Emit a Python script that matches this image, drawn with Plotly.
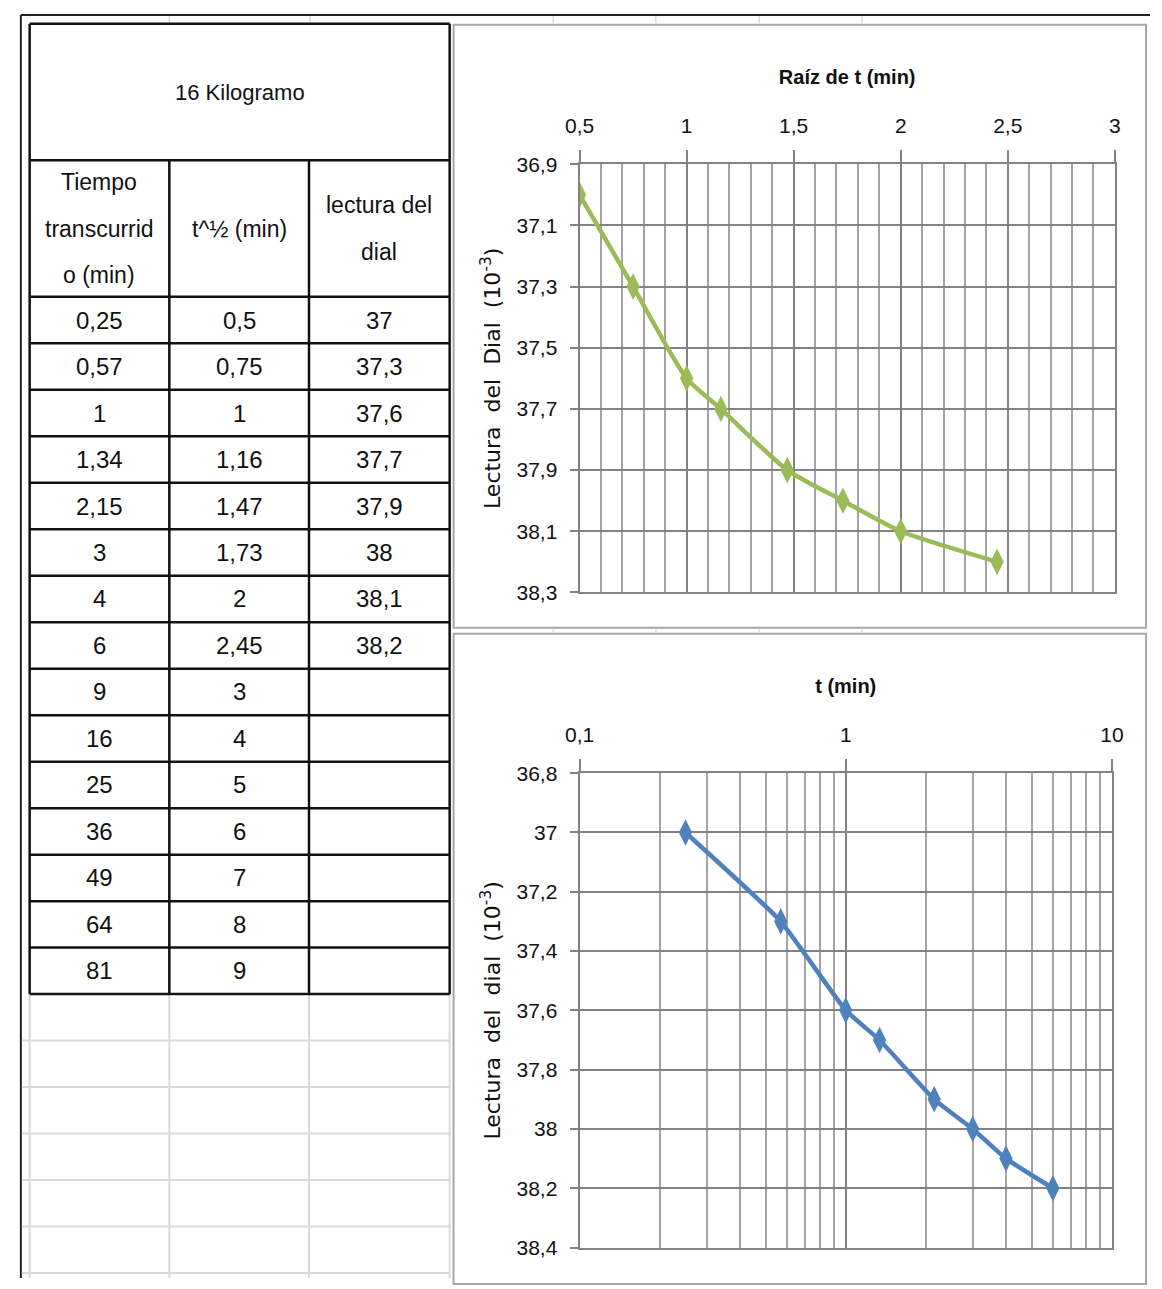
import plotly.graph_objects as go

# ---------------- data ----------------
table_title = "16 Kilogramo"
col_headers = [["Tiempo", "transcurrid", "o (min)"], ["t^½ (min)"], ["lectura del", "dial"]]
tiempo_min = [0.25, 0.57, 1, 1.34, 2.15, 3, 4, 6, 9, 16, 25, 36, 49, 64, 81]
raiz_t = [0.5, 0.75, 1, 1.16, 1.47, 1.73, 2, 2.45, 3, 4, 5, 6, 7, 8, 9]
lectura_dial = [37, 37.3, 37.6, 37.7, 37.9, 38, 38.1, 38.2]

chart1_title = "Raíz de t (min)"
chart2_title = "t (min)"
nb = "\u00a0"
y_title1 = f"Lectura{nb}{nb}del{nb}{nb}Dial{nb}{nb}(10<sup>-3</sup>)"
y_title2 = f"Lectura{nb}{nb}del{nb}{nb}dial{nb}{nb}(10<sup>-3</sup>)"

# ---------------- geometry helpers ----------------
W, H = 1162, 1289


def fx(x):
    return x / W


def fy(y):
    return 1 - y / H


def fmt(v):
    return f"{v:g}".replace(".", ",")


shapes = []
annotations = []


def hline(y, x0, x1, color, width):
    shapes.append(dict(type="line", xref="paper", yref="paper", x0=fx(x0), x1=fx(x1),
                       y0=fy(y), y1=fy(y), line=dict(color=color, width=width), layer="above"))


def vline(x, y0, y1, color, width):
    shapes.append(dict(type="line", xref="paper", yref="paper", x0=fx(x), x1=fx(x),
                       y0=fy(y0), y1=fy(y1), line=dict(color=color, width=width), layer="above"))


TABLE_FONT = "Liberation Sans, Arial, sans-serif"
col_edges = [15, 158, 301, 445]
title_top, header_top, rows_top = 12, 151, 290
row_h = 47.33
n_rows = len(tiempo_min)
rows_bottom = rows_top + n_rows * row_h
BLACK = "#111111"
SHEET_GRAY = "#dadada"

# spreadsheet background grid (top strip, below table, gap between charts)
hline(3, 6, 1162, "#222222", 2)
vline(6, 3, 1289, "#222222", 2)
for x in [158, 302, 551, 656, 762, 867]:
    vline(x, 4, 12, SHEET_GRAY, 1.5)
for x in [551, 656, 762, 867]:
    vline(x, 628, 632, SHEET_GRAY, 1.5)
k = 1
while rows_bottom + k * row_h < H:
    hline(rows_bottom + k * row_h, 7, 445, SHEET_GRAY, 2)
    k += 1
for x in col_edges:
    vline(x, rows_bottom, H, SHEET_GRAY, 2)

# table borders
hline(title_top, col_edges[0], col_edges[-1], BLACK, 2.5)
hline(header_top, col_edges[0], col_edges[-1], BLACK, 2.5)
for i in range(n_rows + 1):
    hline(rows_top + i * row_h, col_edges[0], col_edges[-1], BLACK, 2.5)
vline(col_edges[0], title_top, rows_bottom, BLACK, 2.5)
vline(col_edges[-1], title_top, rows_bottom, BLACK, 2.5)
for x in col_edges[1:-1]:
    vline(x, header_top, rows_bottom, BLACK, 2.5)

# table texts
annotations.append(dict(text=table_title, x=fx((col_edges[0] + col_edges[-1]) / 2),
                        y=fy((title_top + header_top) / 2), xref="paper", yref="paper",
                        showarrow=False, xanchor="center", yanchor="middle",
                        font=dict(family=TABLE_FONT, size=22, color=BLACK)))
header_mid = (header_top + rows_top) / 2
for c, lines in enumerate(col_headers):
    cx = (col_edges[c] + col_edges[c + 1]) / 2
    n = len(lines)
    for j, line in enumerate(lines):
        cy = header_mid + (j - (n - 1) / 2) * 47
        annotations.append(dict(text=line, x=fx(cx), y=fy(cy), xref="paper", yref="paper",
                                showarrow=False, xanchor="center", yanchor="middle",
                                font=dict(family=TABLE_FONT, size=23, color=BLACK)))
columns = [tiempo_min, raiz_t, lectura_dial]
for c, vals in enumerate(columns):
    cx = (col_edges[c] + col_edges[c + 1]) / 2
    for i, v in enumerate(vals):
        cy = rows_top + (i + 0.5) * row_h
        annotations.append(dict(text=fmt(v), x=fx(cx), y=fy(cy), xref="paper", yref="paper",
                                showarrow=False, xanchor="center", yanchor="middle",
                                font=dict(family=TABLE_FONT, size=24, color=BLACK)))

# chart boxes
CHART_BORDER = "#a6a6a6"
for (x0, y0, x1, y1) in [(449, 13, 1158, 627), (449, 633, 1158, 1295)]:
    shapes.append(dict(type="rect", xref="paper", yref="paper", x0=fx(x0), x1=fx(x1),
                       y0=fy(y1), y1=fy(y0), line=dict(color=CHART_BORDER, width=2),
                       fillcolor="rgba(0,0,0,0)", layer="below"))

# ---------------- traces ----------------
n = len(lectura_dial)
GREEN = "#9BBB59"
BLUE = "#4F81BD"
fig = go.Figure()
fig.add_trace(go.Scatter(x=raiz_t[:n], y=lectura_dial, mode="lines+markers",
                         line=dict(color=GREEN, width=4.5, shape="spline", smoothing=0.6),
                         marker=dict(symbol="diamond-tall", size=19, color=GREEN),
                         xaxis="x", yaxis="y", showlegend=False))
fig.add_trace(go.Scatter(x=tiempo_min[:n], y=lectura_dial, mode="lines+markers",
                         line=dict(color=BLUE, width=4.5, shape="spline", smoothing=0.4),
                         marker=dict(symbol="diamond-tall", size=19, color=BLUE),
                         xaxis="x2", yaxis="y2", showlegend=False))

GRID = "#828282"
MINOR = "#a4a4a4"
TICKFONT = dict(family="Liberation Sans, Arial, sans-serif", size=21, color="#111111")
TITLEFONT = dict(family="Liberation Sans, Arial, sans-serif", size=20, color="#111111")
YTITLEFONT = dict(family="DejaVu Sans, Verdana, sans-serif", size=22, color="#111111")

common = dict(showgrid=True, gridcolor=GRID, gridwidth=2, ticks="outside", tickcolor=GRID,
              tickwidth=2, showline=True, mirror=True, linecolor=GRID, linewidth=2,
              zeroline=False, tickfont=TICKFONT, fixedrange=True)

fig.update_layout(
    width=W, height=H, autosize=False,
    margin=dict(l=0, r=0, t=0, b=0, pad=0),
    paper_bgcolor="white", plot_bgcolor="white",
    separators=", ",
    shapes=shapes, annotations=annotations,
    xaxis=dict(domain=[fx(578), fx(1126)], anchor="y", side="top", range=[0.5, 3],
               tick0=0.5, dtick=0.5, ticklen=12, ticklabelstandoff=9,
               minor=dict(tick0=0.5, dtick=0.1, showgrid=True, gridcolor=MINOR, gridwidth=1.5, ticks=""),
               title=dict(text=f"<b>{chart1_title}</b>", font=TITLEFONT, standoff=24), **common),
    yaxis=dict(domain=[fy(591), fy(155)], anchor="x", range=[38.3, 36.9],
               tick0=36.9, dtick=0.2, ticklen=8, ticklabelstandoff=8,
               title=dict(text=y_title1, font=YTITLEFONT, standoff=10), **common),
    xaxis2=dict(domain=[fx(578), fx(1123)], anchor="y2", side="top", type="log", range=[-1, 1],
                dtick=1, ticklen=12, ticklabelstandoff=9,
                minor=dict(dtick="D1", showgrid=True, gridcolor=MINOR, gridwidth=1.5, ticks=""),
                title=dict(text=f"<b>{chart2_title}</b>", font=TITLEFONT, standoff=24), **common),
    yaxis2=dict(domain=[fy(1258), fy(775)], anchor="x2", range=[38.4, 36.8],
                tick0=36.8, dtick=0.2, ticklen=8, ticklabelstandoff=8,
                title=dict(text=y_title2, font=YTITLEFONT, standoff=10), **common),
)

fig.write_html("out.html")
